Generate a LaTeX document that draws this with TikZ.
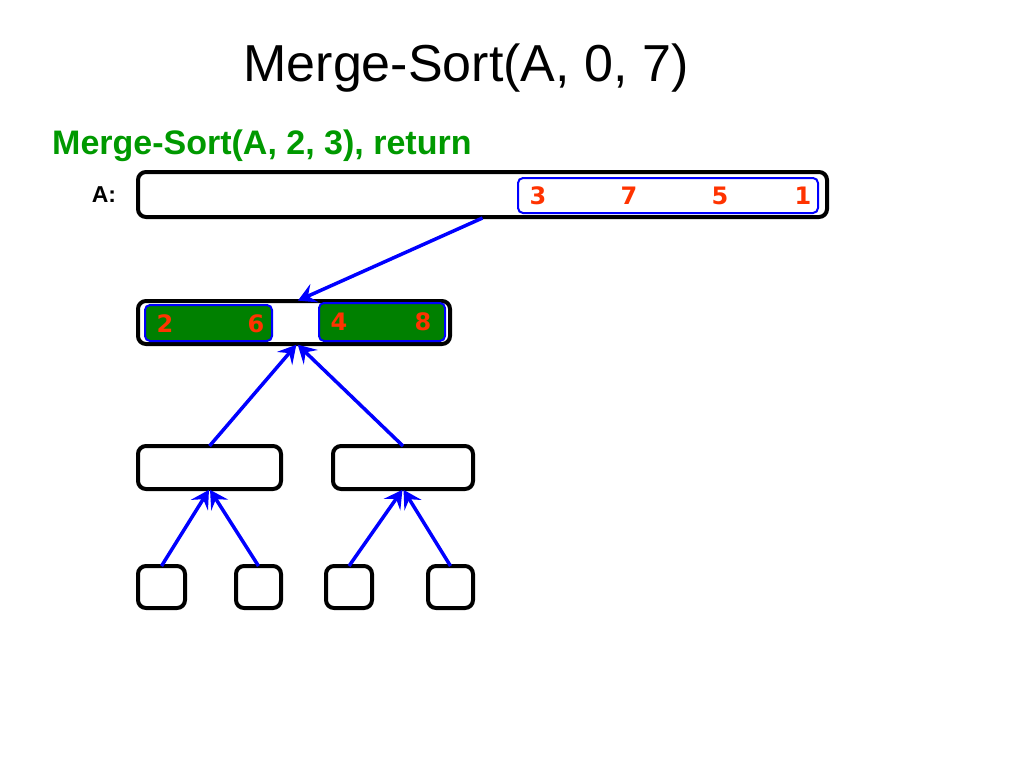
\documentclass[tikz,border=0pt]{standalone}
\usepackage{fontspec}
\setmainfont{Liberation Sans}
\newfontfamily\dvfont{DejaVu Sans}
\usetikzlibrary{arrows.meta}
\definecolor{numred}{HTML}{FF3300}
\definecolor{subgreen}{HTML}{009900}
\definecolor{boxgreen}{HTML}{008000}
\tikzset{
  outerbox/.style={draw=black, line width=4pt, rounded corners=8pt, fill=white, inner sep=0pt, outer sep=0pt},
  bluebox/.style={draw=blue, line width=2pt, rounded corners=5pt, inner sep=0pt, outer sep=0pt},
  greenbox/.style={bluebox, fill=boxgreen},
  num/.style={text=numred, font=\dvfont\bfseries\fontsize{24}{26}\selectfont, inner sep=0pt},
  conn/.style={draw=blue, line width=3.5pt, -{Stealth[length=18pt, width=20pt, inset=7pt]}, shorten >=1pt}
}
\begin{document}
\begin{tikzpicture}[x=1pt, y=-1pt]
\useasboundingbox (0,0) rectangle (1024,768);
% titles
\node[font=\fontsize{52}{56}\selectfont, inner sep=0pt] (title) at (466,68) {Merge-Sort(A, 0, 7)};
\node[font=\bfseries\fontsize{34}{38}\selectfont, text=subgreen, inner sep=0pt, anchor=west] (sub) at (52,146) {Merge-Sort(A, 2, 3), return};
\node[font=\bfseries\fontsize{23}{26}\selectfont, inner sep=0pt] (alabel) at (104,195) {A:};
% top array
\node[outerbox, minimum width=689pt, minimum height=45pt] (top) at (482.5,194.5) {};
\node[bluebox, minimum width=300pt, minimum height=35pt] (topin) at (668,195.5) {};
\node[num] (t3) at (538,196) {3};
\node[num] (t7) at (629,196) {7};
\node[num] (t5) at (720,196) {5};
\node[num] (t1) at (803,196) {1};
% second level
\node[outerbox, minimum width=312pt, minimum height=43pt] (mid) at (294,322.5) {};
\node[greenbox, minimum width=127pt, minimum height=36pt] (gl) at (208.5,323) {};
\node[greenbox, minimum width=126pt, minimum height=38pt] (gr) at (382,322) {};
\node[num] (m2) at (165,324) {2};
\node[num] (m6) at (256,324) {6};
\node[num] (m4) at (339,322) {4};
\node[num] (m8) at (423,322) {8};
% third level
\node[outerbox, minimum width=143pt, minimum height=43pt] (la) at (209.5,467.5) {};
\node[outerbox, minimum width=140pt, minimum height=43pt] (lb) at (403,467.5) {};
% fourth level
\node[outerbox, minimum width=47pt, minimum height=42pt] (qa) at (161.5,587) {};
\node[outerbox, minimum width=45pt, minimum height=42pt] (qb) at (258.5,587) {};
\node[outerbox, minimum width=46pt, minimum height=42pt] (qc) at (349,587) {};
\node[outerbox, minimum width=45pt, minimum height=42pt] (qd) at (450.5,587) {};
% connectors
\draw[conn] ([yshift=-1pt]top.south) -- ([xshift=3pt]mid.north);
\draw[conn] (la.north) -- ([xshift=3pt]mid.south);
\draw[conn] (lb.north) -- ([xshift=3pt]mid.south);
\draw[conn] (qa.north) -- (la.south);
\draw[conn] (qb.north) -- (la.south);
\draw[conn] (qc.north) -- (lb.south);
\draw[conn] (qd.north) -- (lb.south);
\end{tikzpicture}
\end{document}
